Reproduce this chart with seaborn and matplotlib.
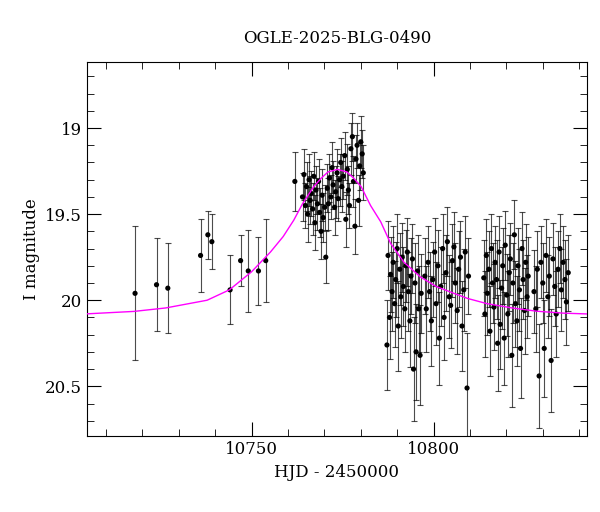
import numpy as np
import matplotlib
matplotlib.use("Agg")
import matplotlib.pyplot as plt
from matplotlib.ticker import MultipleLocator
import seaborn as sb

# photometry (HJD-2450000, I mag, error)
hjd_early = [10718.0, 10723.9, 10727.0, 10736.0, 10738.0, 10739.1, 10744.1, 10747.0, 10749.1, 10751.9, 10753.9, 10761.9]
mag_early = [19.96, 19.91, 19.93, 19.74, 19.62, 19.66, 19.94, 19.77, 19.83, 19.83, 19.77, 19.31]
err_early = [0.39, 0.27, 0.26, 0.21, 0.14, 0.16, 0.20, 0.15, 0.24, 0.20, 0.24, 0.17]

hjd_peak = [10764.0, 10764.4, 10764.8, 10765.1, 10765.4, 10765.8, 10766.1, 10766.4, 10766.8, 10767.1,
            10767.4, 10767.7, 10768.1, 10768.4, 10768.7, 10769.1, 10769.4, 10769.7, 10770.1, 10770.4,
            10770.8, 10771.1, 10771.4, 10771.8, 10772.1, 10772.4, 10772.8, 10773.1, 10773.5, 10773.8,
            10774.2, 10774.5, 10774.8, 10775.2, 10775.6, 10775.9, 10776.3, 10776.6, 10776.9, 10777.3,
            10777.7, 10778.0, 10778.4, 10778.7, 10779.0, 10779.4, 10779.7, 10780.0, 10780.4, 10780.7]
mag_peak = [19.40, 19.27, 19.45, 19.34, 19.50, 19.30, 19.42, 19.38, 19.47, 19.28,
            19.55, 19.36, 19.44, 19.31, 19.49, 19.60, 19.39, 19.52, 19.46, 19.75,
            19.35, 19.44, 19.29, 19.40, 19.23, 19.33, 19.46, 19.37, 19.26, 19.41,
            19.30, 19.20, 19.34, 19.28, 19.16, 19.53, 19.24, 19.36, 19.45, 19.12,
            19.05, 19.31, 19.57, 19.18, 19.10, 19.42, 19.22, 19.08, 19.15, 19.26]
err_peak = [0.14, 0.15, 0.13, 0.14, 0.16, 0.15, 0.14, 0.13, 0.15, 0.14,
            0.16, 0.14, 0.15, 0.13, 0.14, 0.16, 0.15, 0.14, 0.13, 0.15,
            0.14, 0.15, 0.14, 0.13, 0.15, 0.14, 0.16, 0.15, 0.14, 0.13,
            0.15, 0.14, 0.15, 0.13, 0.14, 0.16, 0.15, 0.14, 0.13, 0.15,
            0.14, 0.15, 0.16, 0.14, 0.13, 0.15, 0.14, 0.15, 0.14, 0.16]

hjd_late = [10787.2, 10787.5, 10787.9, 10788.2, 10788.6, 10788.9, 10789.3, 10789.6, 10790.0, 10790.3,
            10790.7, 10791.0, 10791.4, 10791.7, 10792.1, 10792.4, 10792.8, 10793.1, 10793.5, 10793.8,
            10794.2, 10794.5, 10794.9, 10795.2, 10795.6, 10795.9, 10796.3, 10796.6,
            10797.6, 10798.0, 10798.5, 10798.9, 10799.4, 10799.8, 10800.3, 10800.7, 10801.2, 10801.6,
            10802.0, 10802.5, 10802.9, 10803.4, 10803.8, 10804.3, 10804.7, 10805.2, 10805.6, 10806.0,
            10806.5, 10806.9, 10807.4, 10807.8, 10808.3, 10808.7, 10809.2, 10809.6,
            10813.8, 10814.1, 10814.5, 10814.8, 10815.2, 10815.5, 10815.9, 10816.2, 10816.6, 10816.9,
            10817.3, 10817.6, 10818.0, 10818.3, 10818.7, 10819.0, 10819.4, 10819.7, 10820.1, 10820.4,
            10820.8, 10821.1, 10821.5, 10821.8, 10822.2, 10822.5, 10822.9, 10823.2, 10823.6, 10823.9,
            10824.3, 10824.6, 10825.0, 10825.3, 10825.7, 10826.0,
            10827.6, 10828.1, 10828.5, 10829.0, 10829.5, 10830.0, 10830.4, 10830.9, 10831.4, 10831.8,
            10832.3, 10832.8, 10833.3, 10833.7, 10834.2, 10834.7, 10835.1, 10835.6, 10836.1, 10836.5, 10837.0]
mag_late = [20.26, 19.74, 20.10, 19.85, 19.95, 19.78, 20.02, 19.88, 19.70, 20.15,
            19.82, 19.98, 19.75, 19.92, 20.05, 19.80, 19.72, 19.95, 20.12, 19.86,
            19.76, 20.40, 19.90, 20.30, 19.83, 20.05, 20.32, 19.96,
            19.86, 20.05, 19.78, 19.95, 20.12, 19.88, 19.72, 20.02, 19.80, 20.22,
            19.92, 19.70, 20.10, 19.84, 19.66, 19.98, 20.03, 19.77, 19.69, 19.90,
            20.06, 19.82, 19.75, 20.15, 19.94, 19.72, 20.51, 19.86,
            19.87, 20.08, 19.74, 19.96, 19.82, 20.18, 19.70, 19.90, 20.04, 19.78,
            19.88, 20.25, 19.72, 20.14, 19.93, 19.80, 20.22, 19.68, 19.97, 20.08,
            19.84, 19.76, 20.32, 19.90, 19.62, 20.02, 20.12, 19.80, 19.94, 20.28,
            19.70, 19.88, 20.06, 19.78, 19.98, 19.86,
            19.95, 20.05, 19.82, 20.44, 19.78, 19.90, 20.28, 19.74, 19.98, 19.86,
            20.35, 19.76, 19.92, 20.08, 19.82, 19.70, 19.94, 19.78, 19.88, 20.01, 19.84]
err_late = [0.26, 0.20, 0.24, 0.22, 0.23, 0.21, 0.25, 0.22, 0.20, 0.26,
            0.21, 0.24, 0.20, 0.23, 0.25, 0.21, 0.20, 0.23, 0.27, 0.22,
            0.20, 0.30, 0.23, 0.28, 0.21, 0.25, 0.29, 0.23,
            0.22, 0.25, 0.21, 0.23, 0.26, 0.22, 0.20, 0.24, 0.21, 0.27,
            0.23, 0.20, 0.25, 0.22, 0.20, 0.24, 0.25, 0.21, 0.20, 0.23,
            0.25, 0.22, 0.21, 0.26, 0.24, 0.21, 0.32, 0.22,
            0.22, 0.25, 0.21, 0.24, 0.22, 0.26, 0.20, 0.23, 0.25, 0.21,
            0.23, 0.28, 0.21, 0.26, 0.24, 0.22, 0.27, 0.20, 0.24, 0.25,
            0.22, 0.21, 0.30, 0.23, 0.20, 0.25, 0.26, 0.22, 0.24, 0.29,
            0.21, 0.23, 0.25, 0.22, 0.24, 0.23,
            0.24, 0.25, 0.22, 0.30, 0.21, 0.23, 0.28, 0.21, 0.24, 0.23,
            0.30, 0.21, 0.23, 0.25, 0.22, 0.20, 0.24, 0.21, 0.23, 0.25, 0.22]

# model curve
hjd_model = [10704, 10717.7, 10726.4, 10737.8, 10743.9, 10750, 10755.2, 10758.7, 10761.6, 10764.0,
             10767.1, 10769.2, 10771.0, 10773.6, 10776.2, 10778.0, 10780.1, 10782.7, 10785.5, 10788.2,
             10791.9, 10796.4, 10800.7, 10805.6, 10809.4, 10814.7, 10821.6, 10828.4, 10835.6, 10842.6]
mag_model = [20.08, 20.065, 20.045, 20.0, 19.94, 19.835, 19.72, 19.63, 19.535, 19.44,
             19.34, 19.29, 19.255, 19.24, 19.255, 19.29, 19.34, 19.45, 19.545, 19.67,
             19.78, 19.865, 19.92, 19.96, 19.99, 20.02, 20.045, 20.064, 20.075, 20.08]

hjd = np.array(hjd_early + hjd_peak + hjd_late)
mag = np.array(mag_early + mag_peak + mag_late)
err = np.array(err_early + err_peak + err_late)

plt.rcParams["font.family"] = "DejaVu Serif"
fig = plt.figure(figsize=(6, 5.12), dpi=100)
ax = fig.add_axes([0.145, 0.148, 0.833, 0.731])

ax.errorbar(hjd, mag, yerr=err, fmt="none", ecolor="black", elinewidth=0.8,
            capsize=2.5, capthick=0.8, alpha=0.7, zorder=2)
sb.scatterplot(x=hjd, y=mag, color="black", s=14, edgecolor="none", ax=ax, zorder=3)
sb.lineplot(x=hjd_model, y=mag_model, color="magenta", lw=1, ax=ax, zorder=4)

ax.set_xlim(10704.8, 10842.1)
ax.set_ylim(20.79, 18.616)
ax.xaxis.set_major_locator(MultipleLocator(50))
ax.xaxis.set_minor_locator(MultipleLocator(10))
ax.yaxis.set_major_locator(MultipleLocator(0.5))
ax.yaxis.set_minor_locator(MultipleLocator(0.1))
ax.yaxis.set_major_formatter(plt.FuncFormatter(lambda v, p: f"{v:g}"))
ax.tick_params(which="both", direction="in", top=True, right=True, labelsize=12)
ax.tick_params(which="major", length=10)
ax.tick_params(which="minor", length=5)
ax.set_xlabel("HJD - 2450000", fontsize=12)
ax.set_ylabel("I magnitude", fontsize=12)
ax.set_title("OGLE-2025-BLG-0490", fontsize=12, pad=14)
fig.savefig("out.png", dpi=100)
